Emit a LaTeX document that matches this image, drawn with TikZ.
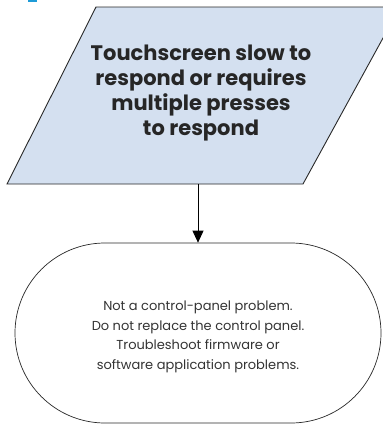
\documentclass[tikz,border=0pt]{standalone}
\usepackage{fontspec}
\setmainfont{Poppins}
\usetikzlibrary{arrows.meta,shapes.misc}
\definecolor{boxblue}{RGB}{212,224,240}
\definecolor{hpblue}{RGB}{30,155,215}
\definecolor{edge}{RGB}{40,40,40}
\tikzset{
  x=1pt,y=1pt,
  decision/.style={fill=boxblue,draw=edge,line width=0.9pt},
  titletext/.style={align=center,font=\bfseries\fontsize{21}{25}\selectfont,text=black!85},
  endbox/.style={rounded rectangle,draw=edge,line width=0.7pt,minimum width=366pt,minimum height=180pt,inner sep=0pt},
  bodytext/.style={align=center,font=\fontsize{13}{19.5}\selectfont,text=black!80},
  flow/.style={draw=black,line width=0.8pt,-{Triangle[length=12pt,width=11pt]}}
}
\begin{document}
\begin{tikzpicture}
\useasboundingbox (0,0) rectangle (383,-424);
\fill[hpblue] (28,0) rectangle (37,-1.5);
\begin{scope}
\clip (0,0) rectangle (383,-424);
\draw[decision] (96,-7) -- (400,-7) -- (303,-184) -- (7,-184) -- cycle;
\end{scope}
\node[titletext] (title) at (201,-93) {Touchscreen slow to\\respond or requires\\multiple presses\\to respond};
\coordinate (pbot) at (198,-184);
\node[endbox] (end) at (198,-333) {};
\node[bodytext] (body) at (198,-337) {Not a control-panel problem.\\Do not replace the control panel.\\Troubleshoot firmware or\\software application problems.};
\draw[flow] (pbot) -- (end.north);
\end{tikzpicture}
\end{document}
